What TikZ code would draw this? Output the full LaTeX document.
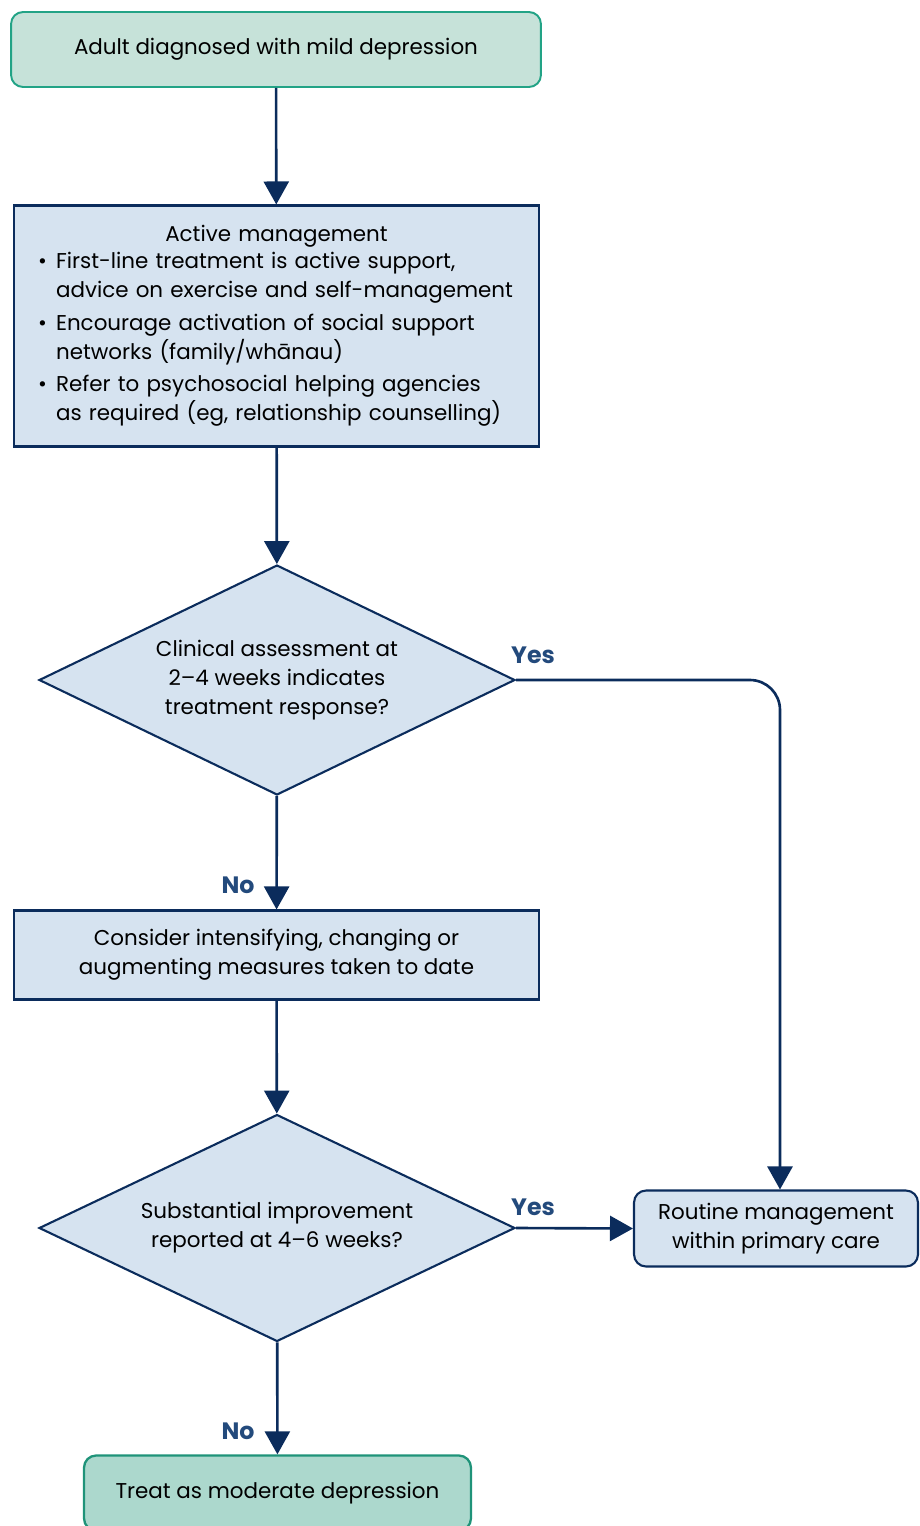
\documentclass[tikz,border=0pt]{standalone}
\usepackage{fontspec}
\setmainfont{Poppins}
\usetikzlibrary{shapes.geometric}
\usetikzlibrary{positioning}
\usetikzlibrary{arrows.meta}
\definecolor{navy}{HTML}{0B2C5C}
\definecolor{labblue}{HTML}{234A7C}
\definecolor{boxfill}{HTML}{D6E3F0}
\definecolor{startfill}{HTML}{C6E2D9}
\definecolor{endfill}{HTML}{ACD8CD}
\definecolor{tealline}{HTML}{22A386}
\newcommand{\bul}[2]{\par\noindent\makebox[0.36cm][l]{\textbullet}#1\par\noindent\hspace*{0.36cm}#2}
\tikzset{
    startnode/.style = {rectangle, rounded corners=0.24cm, draw=tealline, line width=1.1pt, fill=startfill, align=center},
    endnode/.style = {rectangle, rounded corners=0.24cm, draw=tealline!90!black, line width=1.3pt, fill=endfill, align=center},
    boxnode/.style = {rectangle, draw=navy, line width=1.2pt, fill=boxfill, align=center},
    rboxnode/.style = {rectangle, rounded corners=0.24cm, draw=navy, line width=1.2pt, fill=boxfill, align=center},
    decnode/.style = {diamond, aspect=2.05, draw=navy, line width=1.2pt, fill=boxfill, align=center, inner sep=0pt, minimum width=9.52cm, minimum height=4.6cm},
    edgen/.style = {-{Triangle[width=0.5cm,length=0.46cm]}, line width=1.5pt, navy},
    answer/.style = {font=\bfseries\fontsize{13.5}{16}\selectfont, text=labblue, inner sep=0pt}
}
\begin{document}
\begin{tikzpicture}[x=0.02cm, y=-0.02cm, font=\fontsize{12.2}{16.5}\selectfont, text=black]
  \useasboundingbox (0,0) rectangle (920,1526);

  \node[startnode, minimum width=10.6cm, minimum height=1.5cm] (start) at (276,49.5)
    {Adult diagnosed with mild depression};
  \node[boxnode, minimum width=10.5cm, minimum height=4.82cm, text width=9.54cm, align=left] (active) at (276.5,326)
    {\centerline{Active management}\vspace{-1pt}
     \bul{First-line treatment is active support,}{advice on exercise and self-management}\vspace{2pt}
     \bul{Encourage activation of social support}{networks (family/wh\=anau)}\vspace{2pt}
     \bul{Refer to psychosocial helping agencies}{as required (eg, relationship counselling)}};
  \node[decnode] (assess) at (277,680)
    {Clinical assessment at\\2--4 weeks indicates\\treatment response?};
  \node[boxnode, minimum width=10.5cm, minimum height=1.78cm] (consider) at (276.5,955)
    {Consider intensifying, changing or\\augmenting measures taken to date};
  \node[decnode, minimum height=4.54cm] (improve) at (277,1228)
    {Substantial improvement\\reported at 4--6 weeks?};
  \node[rboxnode, minimum width=5.68cm, minimum height=1.52cm] (routine) at (776,1228.5)
    {Routine management\\within primary care};
  \node[endnode, minimum width=7.74cm, minimum height=1.5cm] (moderate) at (277.5,1493)
    {Treat as moderate depression};

  % connectors
  \draw[edgen] (start) -- (active);
  \draw[edgen] (active) -- (assess);
  \draw[edgen] (assess) -- (consider);
  \draw[edgen, rounded corners=0.6cm] (assess.east) -| ([xshift=0.08cm]routine.north);
  \draw[edgen] (consider) -- (improve);
  \draw[edgen] (improve.east) -- (routine.west);
  \draw[edgen] (improve) -- (moderate);

  % answers
  \node[answer] (yes1) at (533,655) {Yes};
  \node[answer] (no1) at (238,885) {No};
  \node[answer] (yes2) at (533,1207) {Yes};
  \node[answer] (no2) at (238,1431) {No};
\end{tikzpicture}
\end{document}
